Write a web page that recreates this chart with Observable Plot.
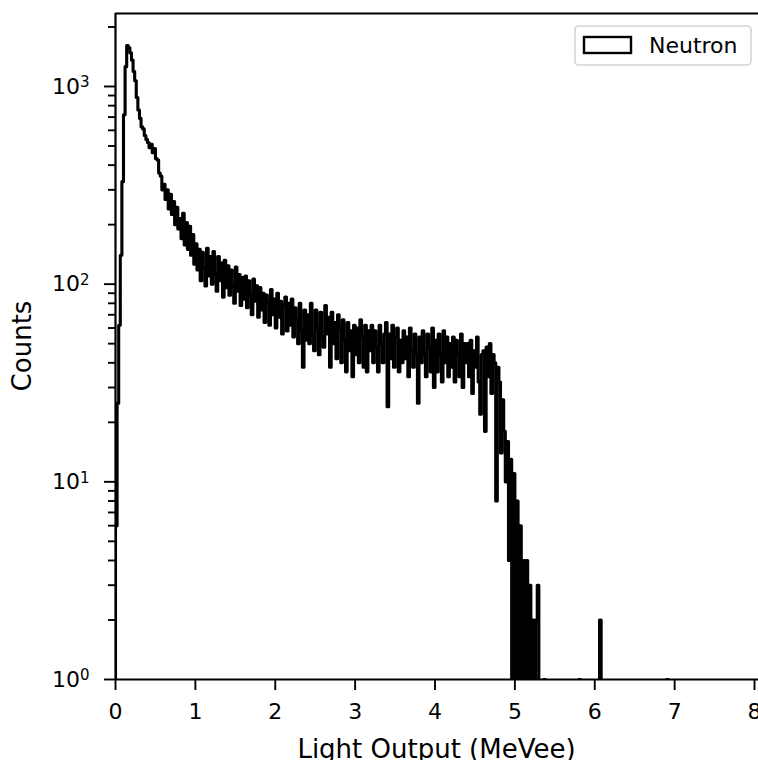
<!DOCTYPE html>
<html>
<head>
<meta charset="utf-8">
<script src="https://cdn.jsdelivr.net/npm/d3@7"></script>
<script src="https://cdn.jsdelivr.net/npm/@observablehq/plot@0.6"></script>
<style>
html, body { margin: 0; padding: 0; background: #fff; overflow: hidden; }
#chart { position: relative; width: 758px; height: 760px; }
svg { font-family: "DejaVu Sans", sans-serif; }
</style>
</head>
<body>
<div id="chart"></div>
<script>
// ---- Data ----
const binStart = 0;        // MeVee, left edge of first bin
const binWidth = 0.02;     // MeVee
const histEnd = 8.0;       // MeVee, right edge of last bin
// Counts per bin, bins from 0.00 to 5.38 MeVee
const counts = [
  6, 25, 62, 140, 330, 720, 1260, 1610, 1570, 1480,
  1360, 1190, 1070, 880, 760, 690, 625, 610, 565, 540,
  520, 490, 510, 462, 485, 432, 425, 365, 352, 300,
  320, 268, 300, 240, 285, 225, 262, 200, 245, 190,
  215, 170, 228, 158, 205, 150, 196, 140, 178, 126,
  160, 118, 150, 104, 145, 122, 98, 152, 110, 138,
  100, 146, 112, 92, 138, 104, 128, 86, 132, 96,
  124, 88, 118, 98, 80, 122, 92, 112, 78, 108,
  84, 110, 76, 104, 88, 70, 106, 82, 98, 68,
  96, 74, 90, 64, 88, 80, 62, 94, 70, 84,
  60, 90, 68, 82, 56, 78, 86, 58, 80, 62,
  84, 54, 76, 66, 50, 80, 58, 38, 74, 52,
  70, 50, 80, 56, 46, 74, 60, 44, 72, 54,
  48, 78, 56, 68, 38, 72, 50, 64, 42, 70,
  60, 40, 66, 52, 36, 64, 46, 58, 34, 62,
  44, 60, 40, 66, 54, 38, 62, 36, 58, 46,
  62, 40, 58, 48, 36, 62, 50, 40, 56, 64,
  24, 56, 42, 62, 38, 54, 60, 36, 52, 40,
  58, 42, 54, 34, 60, 46, 38, 56, 44, 25,
  54, 40, 58, 44, 34, 56, 48, 36, 60, 30,
  52, 36, 56, 44, 32, 58, 40, 54, 34, 50,
  38, 54, 32, 52, 44, 34, 56, 30, 50, 40,
  50, 34, 52, 28, 46, 38, 54, 32, 22, 44,
  46, 18, 48, 34, 50, 28, 44, 40, 8, 38,
  32, 14, 26, 18, 10, 16, 4, 13, 1, 11,
  0, 8, 1, 6, 0, 4, 0, 4, 0, 3,
  0, 2, 0, 2, 3, 0, 0, 0, 1, 0
];
// Isolated non-empty bins further out
const tailEdges = [5.80, 6.06, 6.90];
const tailCounts = [1, 2, 1];

const xTicks = [0, 1, 2, 3, 4, 5, 6, 7, 8];
const yMajorTicks = [1, 10, 100, 1000];
const yTickBase = "10";
const yTickExponents = ["0", "1", "2", "3"];
const yMinorTicks = [2, 3, 4, 5, 6, 7, 8, 9, 20, 30, 40, 50, 60, 70, 80, 90,
                     200, 300, 400, 500, 600, 700, 800, 900, 2000];
const seriesName = "Neutron";
const xLabel = "Light Output (MeVee)";
const yLabel = "Counts";

// ---- Build histogram step outline ----
const nBins = Math.round((histEnd - binStart) / binWidth);
const full = new Array(nBins).fill(0);
counts.forEach((c, i) => { full[i] = c; });
tailEdges.forEach((e, j) => { full[Math.round((e - binStart) / binWidth)] = tailCounts[j]; });
const points = [{x: binStart, count: 0}];
full.forEach((c, i) => points.push({x: binStart + i * binWidth, count: c}));
points.push({x: histEnd, count: 0});

const yDomain = [1, 2340];
const xDomain = [0, 8.05];

const chart = Plot.plot({
  width: 758,
  height: 760,
  marginLeft: 115,
  marginRight: 0,
  marginTop: 13,
  marginBottom: 81,
  style: {background: "white", color: "black", fontFamily: "DejaVu Sans, sans-serif", overflow: "visible"},
  x: {domain: xDomain, label: null},
  y: {type: "log", domain: yDomain, label: null},
  marks: [
    Plot.lineY(points, {
      x: "x",
      y: d => (d.count > 0 ? d.count : 0.1),
      curve: "step-after",
      stroke: "black",
      strokeWidth: 3.1,
      clip: true
    }),
    Plot.axisY({ticks: yMinorTicks, tickSize: 7, tickFormat: () => "", strokeWidth: 1.9, label: null}),
    Plot.axisY({ticks: yMajorTicks, tickSize: 11, tickPadding: 15, fontSize: 22,
                tickFormat: d => yTickBase + "|" + yTickExponents[yMajorTicks.indexOf(d)],
                strokeWidth: 1.9, label: null}),
    Plot.axisX({ticks: xTicks, tickSize: 11, tickPadding: 13, fontSize: 22,
                tickFormat: d => String(d), strokeWidth: 1.9, label: null}),
    Plot.ruleX([xDomain[0]], {stroke: "black", strokeWidth: 2.2}),
    Plot.ruleY([yDomain[0]], {stroke: "black", strokeWidth: 2.2}),
    Plot.ruleY([yDomain[1]], {stroke: "black", strokeWidth: 2.2})
  ]
});

document.getElementById("chart").appendChild(chart);

const svg = d3.select(chart);

// Superscript exponents on the y tick labels
svg.selectAll("text").each(function () {
  const t = this.textContent;
  if (t.includes("|")) {
    const [base, exp] = t.split("|");
    const el = d3.select(this);
    el.text(base);
    el.append("tspan").attr("dy", "-0.42em").attr("font-size", 15).text(exp);
  }
});

// Axis titles
svg.append("text")
  .attr("x", 115 + (758 - 115) / 2)
  .attr("y", 758)
  .attr("text-anchor", "middle")
  .attr("font-size", 26)
  .attr("fill", "black")
  .text(xLabel);
svg.append("text")
  .attr("transform", `translate(31,${13 + (679 - 13) / 2}) rotate(-90)`)
  .attr("text-anchor", "middle")
  .attr("font-size", 26)
  .attr("fill", "black")
  .text(yLabel);

// Legend
const lg = svg.append("g");
lg.append("rect")
  .attr("x", 575).attr("y", 26).attr("width", 176).attr("height", 39)
  .attr("rx", 4).attr("fill", "white").attr("fill-opacity", 0.8)
  .attr("stroke", "#d4d4d4").attr("stroke-width", 1.6);
lg.append("rect")
  .attr("x", 584).attr("y", 37).attr("width", 47).attr("height", 16)
  .attr("fill", "none").attr("stroke", "black").attr("stroke-width", 2.4);
lg.append("text")
  .attr("x", 649).attr("y", 53)
  .attr("text-anchor", "start")
  .attr("font-size", 22).attr("fill", "black")
  .text(seriesName);
</script>
</body>
</html>
